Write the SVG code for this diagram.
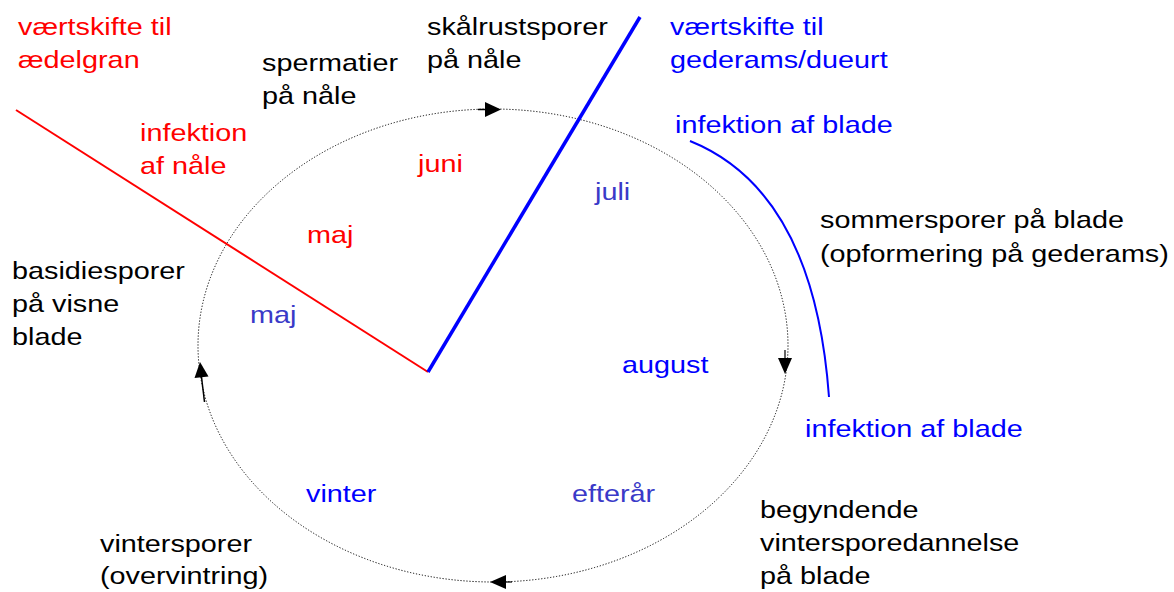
<svg xmlns="http://www.w3.org/2000/svg" width="1174" height="592" viewBox="0 0 1174 592">
<style>
text{font-family:"Liberation Sans",Arial,sans-serif;font-size:24px}
.k{fill:#000}.r{fill:#ff0000}.b{fill:#0000ff}.p{fill:#3a3ac8}
.dot{fill:none;stroke:#000;stroke-width:1;stroke-dasharray:1.2 1.8}
</style>
<g id="connectors">
<ellipse class="dot" cx="493" cy="345.5" rx="295" ry="236.5"/>
<path d="M478,109.5L487,109.5" stroke="#000" stroke-width="1.5"/>
<path d="M485,102L501,109.5L485,117z" fill="#000"/>
<path d="M785,350L785,358" stroke="#000" stroke-width="1.2"/>
<path d="M778,358L785,374L792,358z" fill="#000"/>
<path d="M512,582L505,582" stroke="#000" stroke-width="1.2"/>
<path d="M506,575L490,582L506,589z" fill="#000"/>
<path d="M204.5,402L201.5,377" stroke="#000" stroke-width="1.5"/>
<path d="M194.5,378L200,362L208.5,376.5z" fill="#000"/>
<path d="M16,110L428,372" stroke="#ff0000" stroke-width="2" fill="none"/>
<path d="M428,372L640,17" stroke="#0000ff" stroke-width="3.5" fill="none"/>
<path d="M690,141Q814,191 829,397" stroke="#0000ff" stroke-width="2" fill="none"/>
</g>
<g id="vaertskifte-aedelgran"><text class="r" transform="translate(18 35) scale(1.2 1)"><tspan x="0">værtskifte til</tspan><tspan x="0" dy="33">ædelgran</tspan></text></g>
<g id="spermatier"><text class="k" transform="translate(262 71) scale(1.2 1)"><tspan x="0">spermatier</tspan><tspan x="0" dy="33">på nåle</tspan></text></g>
<g id="skaalrustsporer"><text class="k" transform="translate(427 35) scale(1.2 1)"><tspan x="0">skålrustsporer</tspan><tspan x="0" dy="33">på nåle</tspan></text></g>
<g id="vaertskifte-gederams"><text class="b" transform="translate(670 35) scale(1.2 1)"><tspan x="0">værtskifte til</tspan><tspan x="0" dy="33">gederams/dueurt</tspan></text></g>
<g id="infektion-naale"><text class="r" transform="translate(140 141) scale(1.2 1)"><tspan x="0">infektion</tspan><tspan x="0" dy="33">af nåle</tspan></text></g>
<g id="juni"><text class="r" transform="translate(418 172) scale(1.2 1)">juni</text></g>
<g id="maj-red"><text class="r" transform="translate(307 243) scale(1.2 1)">maj</text></g>
<g id="maj-blue"><text class="p" transform="translate(250 323) scale(1.2 1)">maj</text></g>
<g id="juli"><text class="p" transform="translate(595 200) scale(1.2 1)">juli</text></g>
<g id="infektion-blade-1"><text class="b" transform="translate(675 133) scale(1.2 1)">infektion af blade</text></g>
<g id="sommersporer"><text class="k" transform="translate(820 228) scale(1.2 1)"><tspan x="0">sommersporer på blade</tspan><tspan x="0" dy="34">(opformering på gederams)</tspan></text></g>
<g id="basidiesporer"><text class="k" transform="translate(12 279) scale(1.2 1)"><tspan x="0">basidiesporer</tspan><tspan x="0" dy="33">på visne</tspan><tspan x="0" dy="33">blade</tspan></text></g>
<g id="august"><text class="b" transform="translate(622 373) scale(1.2 1)">august</text></g>
<g id="infektion-blade-2"><text class="b" transform="translate(805 437) scale(1.2 1)">infektion af blade</text></g>
<g id="vinter"><text class="b" transform="translate(306 502) scale(1.2 1)">vinter</text></g>
<g id="efteraar"><text class="p" transform="translate(572 502) scale(1.2 1)">efterår</text></g>
<g id="vintersporer"><text class="k" transform="translate(100 552) scale(1.2 1)"><tspan x="0">vintersporer</tspan><tspan x="0" dy="32">(overvintring)</tspan></text></g>
<g id="begyndende"><text class="k" transform="translate(760 518) scale(1.2 1)"><tspan x="0">begyndende</tspan><tspan x="0" dy="33">vintersporedannelse</tspan><tspan x="0" dy="33">på blade</tspan></text></g>
</svg>
